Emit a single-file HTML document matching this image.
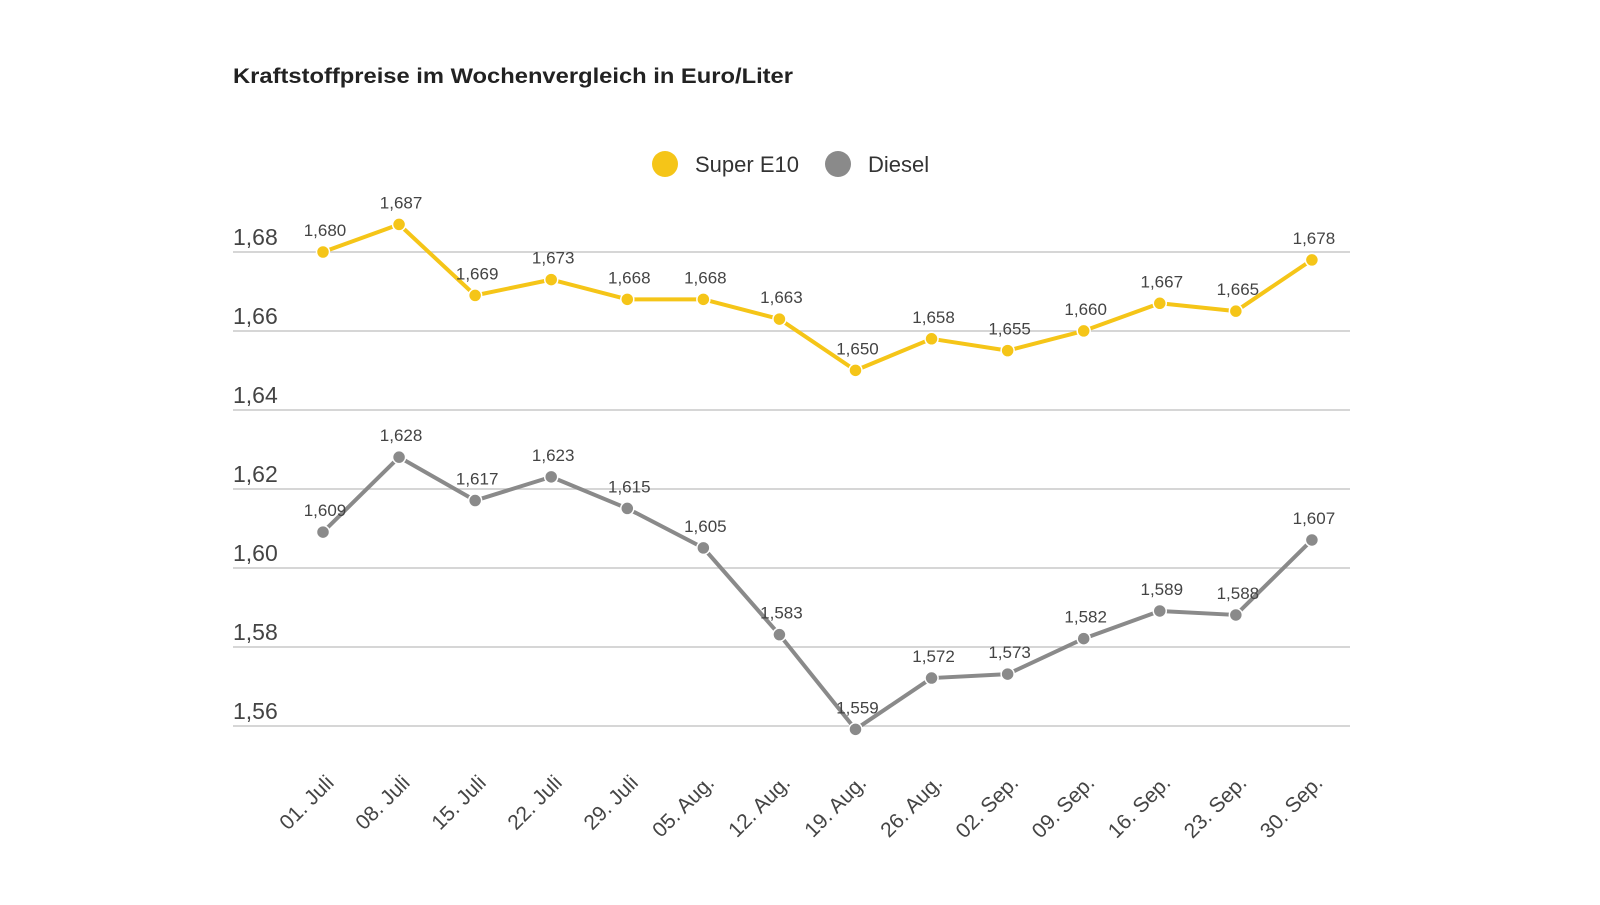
<!DOCTYPE html>
<html><head><meta charset="utf-8"><style>
body{margin:0;background:#fff;width:1600px;height:900px;overflow:hidden}
svg text{font-family:"Liberation Sans",sans-serif}
</style></head><body>
<svg width="1600" height="900" xmlns="http://www.w3.org/2000/svg">
<text x="233" y="83" font-size="21" font-weight="bold" fill="#222" textLength="560" lengthAdjust="spacingAndGlyphs">Kraftstoffpreise im Wochenvergleich in Euro/Liter</text>
<circle cx="665" cy="164" r="13" fill="#f5c518"/>
<text x="695" y="172" font-size="22" fill="#333">Super E10</text>
<circle cx="838" cy="164" r="13" fill="#8a8a8a"/>
<text x="868" y="172" font-size="22" fill="#333">Diesel</text>
<g stroke="#c8c8c8" stroke-width="1.5">
<line x1="233" x2="1350" y1="252" y2="252"/><line x1="233" x2="1350" y1="331" y2="331"/>
<line x1="233" x2="1350" y1="410" y2="410"/><line x1="233" x2="1350" y1="489" y2="489"/>
<line x1="233" x2="1350" y1="568" y2="568"/><line x1="233" x2="1350" y1="647" y2="647"/>
<line x1="233" x2="1350" y1="726" y2="726"/>
</g>
<g font-size="23" fill="#444">
<text x="233" y="245">1,68</text><text x="233" y="324">1,66</text><text x="233" y="403">1,64</text>
<text x="233" y="482">1,62</text><text x="233" y="561">1,60</text><text x="233" y="640">1,58</text>
<text x="233" y="719">1,56</text>
</g>
<g id="c"></g>
</svg>
<script>
const xs=[...Array(14)].map((_,i)=>323+i*76.07);
const y=v=>252+(1.68-v)*3945;
const e=[1.680,1.687,1.669,1.673,1.668,1.668,1.663,1.650,1.658,1.655,1.660,1.667,1.665,1.678];
const d=[1.609,1.628,1.617,1.623,1.615,1.605,1.583,1.559,1.572,1.573,1.582,1.589,1.588,1.607];
const lab=["01. Juli","08. Juli","15. Juli","22. Juli","29. Juli","05. Aug.","12. Aug.","19. Aug.","26. Aug.","02. Sep.","09. Sep.","16. Sep.","23. Sep.","30. Sep."];
let s="";
function ser(a,col){
 s+=`<polyline fill="none" stroke="${col}" stroke-width="4" stroke-linejoin="round" points="${a.map((v,i)=>xs[i]+','+y(v)).join(' ')}"/>`;
 a.forEach((v,i)=>{s+=`<circle cx="${xs[i]}" cy="${y(v)}" r="6.5" fill="${col}" stroke="#fff" stroke-width="1.5"/>`;
 s+=`<text x="${xs[i]+2}" y="${y(v)-16}" font-size="17" fill="#444" text-anchor="middle">${v.toFixed(3).replace('.',',')}</text>`;});
}
ser(e,"#f5c518");ser(d,"#8a8a8a");
lab.forEach((l,i)=>{s+=`<text transform="translate(${xs[i]+12},${784}) rotate(-45)" font-size="21" fill="#444" text-anchor="end">${l}</text>`;});
document.getElementById("c").innerHTML=s;
</script>
</body></html>
